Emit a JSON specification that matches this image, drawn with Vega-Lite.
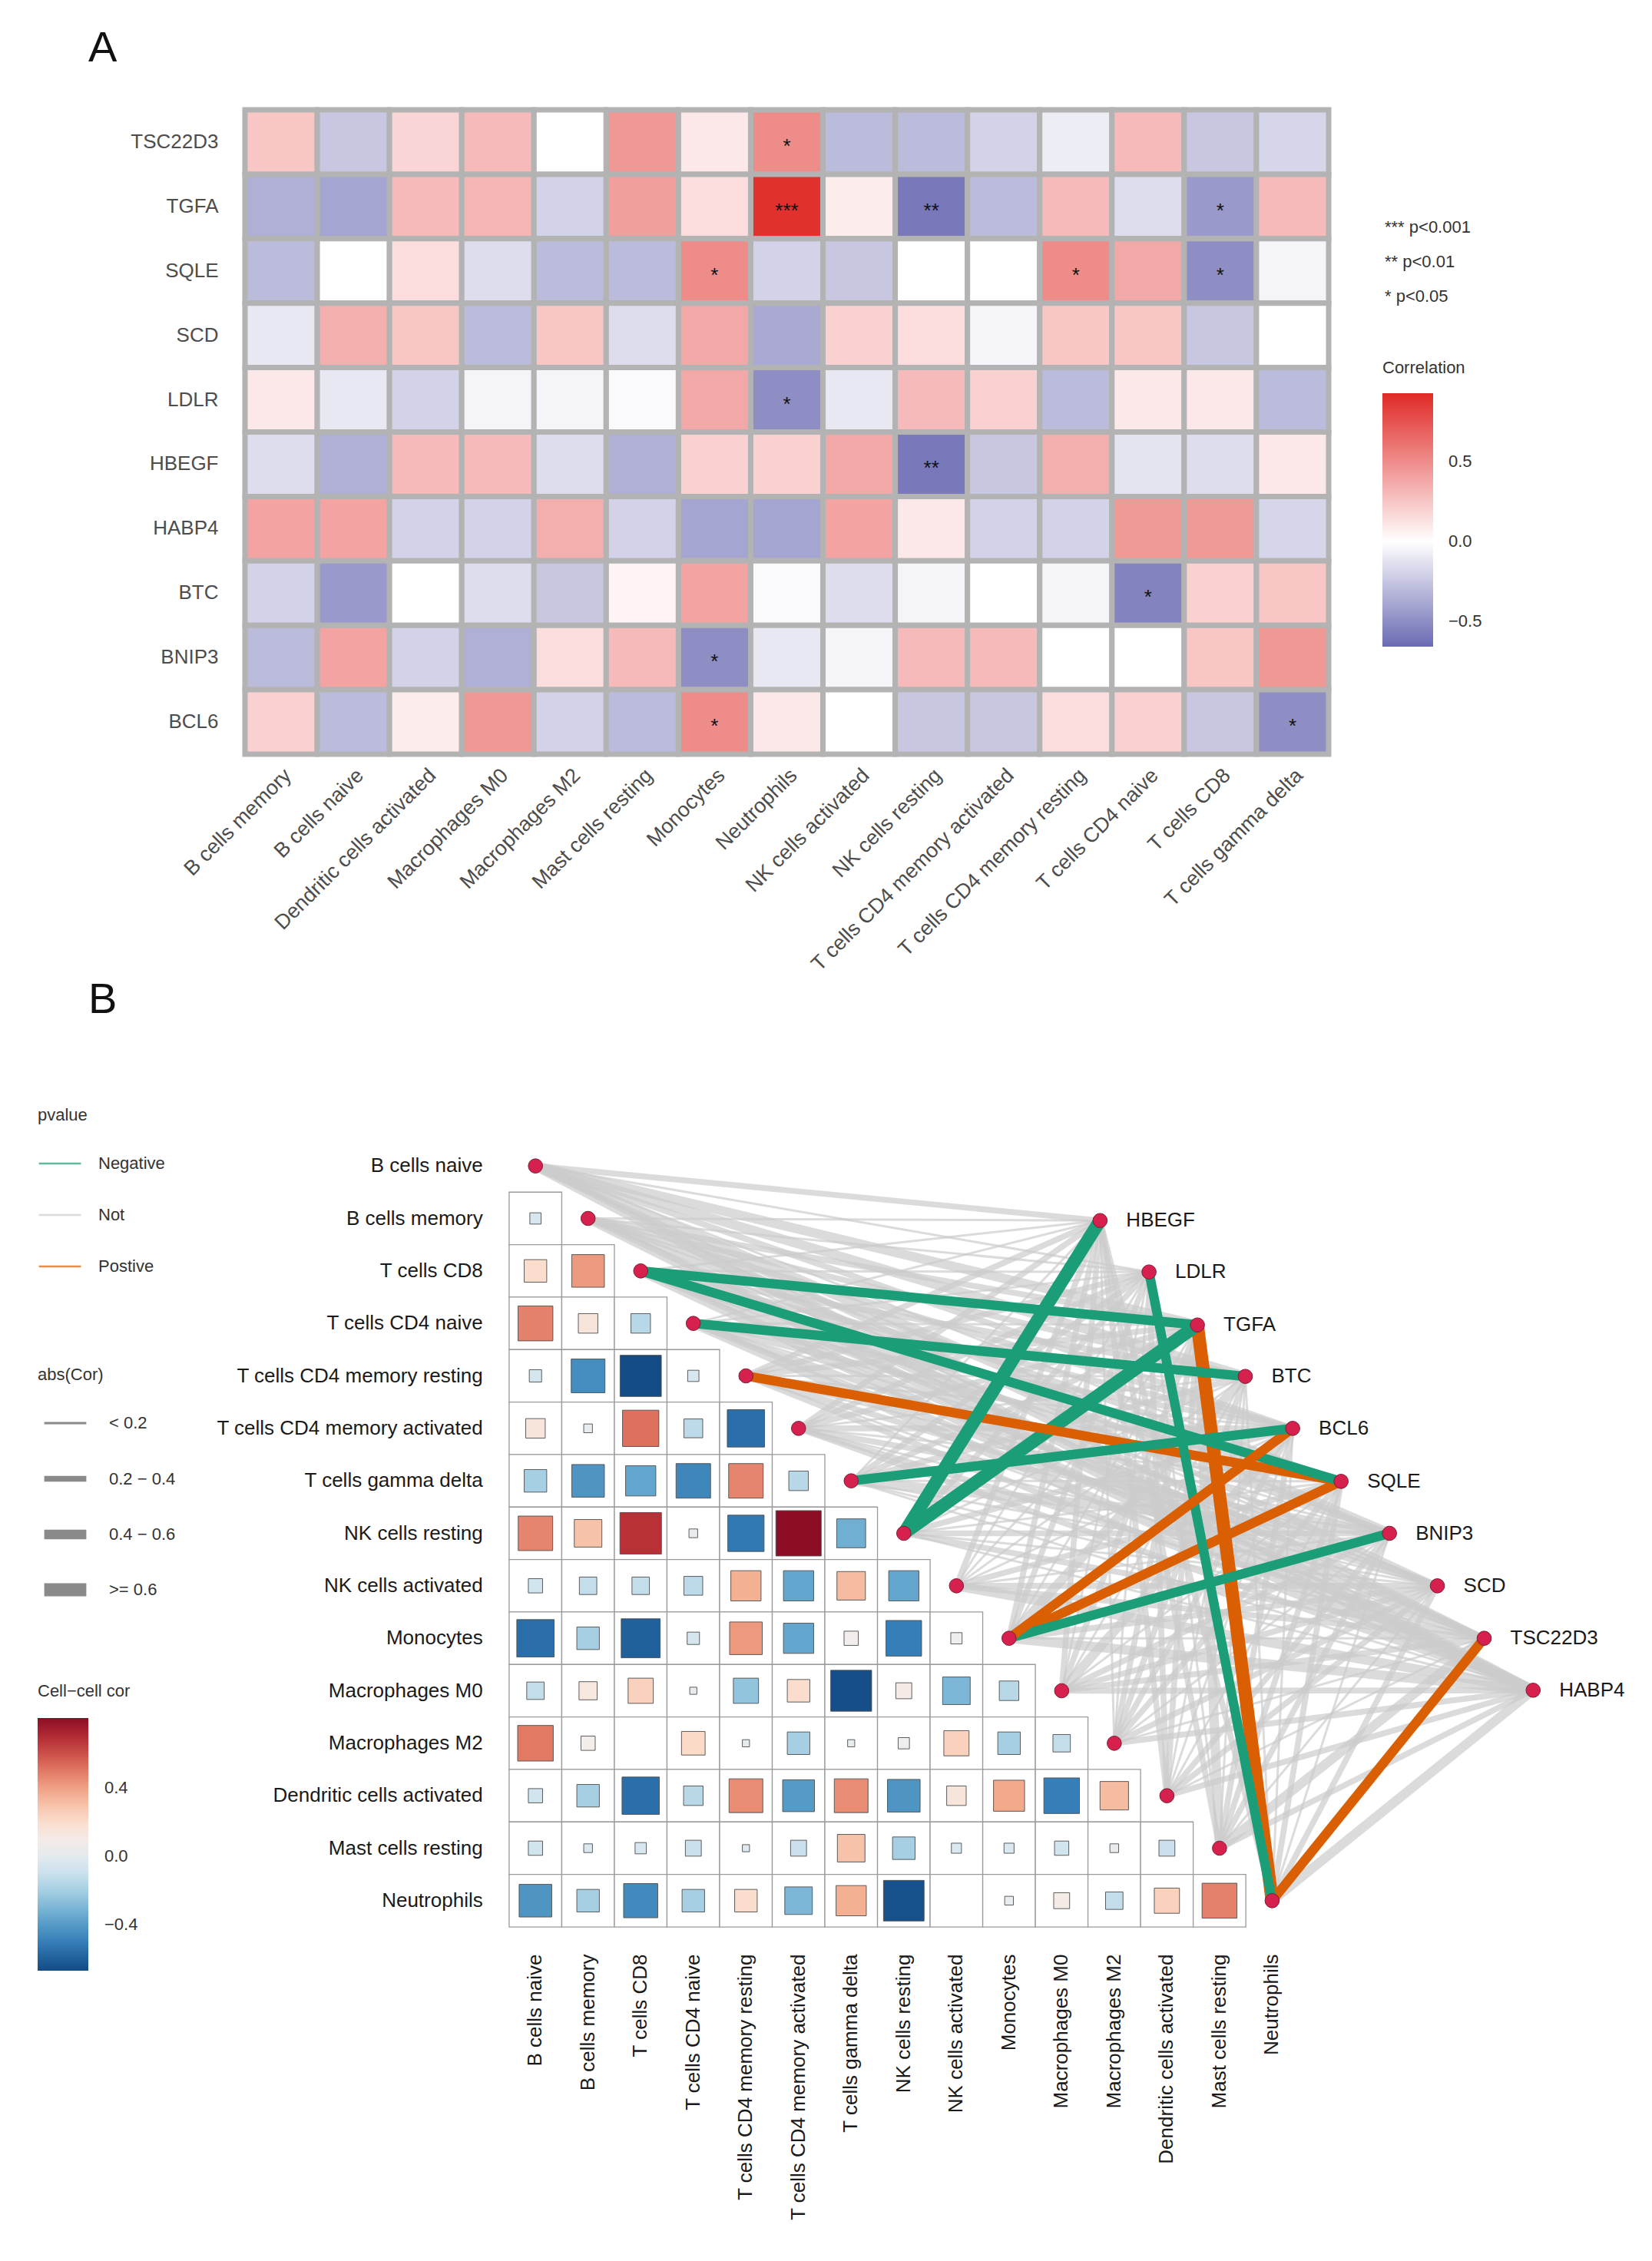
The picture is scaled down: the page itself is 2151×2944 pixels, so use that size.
{
"$schema": "https://vega.github.io/schema/vega-lite/v6.json",
"background": "white",
"padding": {"left": 49, "top": 34, "right": 10, "bottom": 10},
"bounds": "flush",
"spacing": 502,
"config": {
  "font": "Liberation Sans",
  "view": {"stroke": null},
  "legend": {"padding": 0, "titleFontWeight": "normal", "titleFontSize": 22, "labelFontSize": 22, "titleColor": "#333333", "labelColor": "#333333"},
  "title": {"fontWeight": "normal", "color": "#111111"}
},
"resolve": {"scale": {"color": "independent", "opacity": "independent", "fill": "independent", "size": "independent", "strokeWidth": "independent"}, "legend": {"color": "independent"}},
"datasets": {
"nodes": [
{"node":"B cells naive","px":0,"py":0,"kind":"cell"},
{"node":"B cells memory","px":1,"py":1,"kind":"cell"},
{"node":"T cells CD8","px":2,"py":2,"kind":"cell"},
{"node":"T cells CD4 naive","px":3,"py":3,"kind":"cell"},
{"node":"T cells CD4 memory resting","px":4,"py":4,"kind":"cell"},
{"node":"T cells CD4 memory activated","px":5,"py":5,"kind":"cell"},
{"node":"T cells gamma delta","px":6,"py":6,"kind":"cell"},
{"node":"NK cells resting","px":7,"py":7,"kind":"cell"},
{"node":"NK cells activated","px":8,"py":8,"kind":"cell"},
{"node":"Monocytes","px":9,"py":9,"kind":"cell"},
{"node":"Macrophages M0","px":10,"py":10,"kind":"cell"},
{"node":"Macrophages M2","px":11,"py":11,"kind":"cell"},
{"node":"Dendritic cells activated","px":12,"py":12,"kind":"cell"},
{"node":"Mast cells resting","px":13,"py":13,"kind":"cell"},
{"node":"Neutrophils","px":14,"py":14,"kind":"cell"},
{"node":"HBEGF","px":10.73,"py":1.04,"kind":"gene"},
{"node":"LDLR","px":11.66,"py":2.02,"kind":"gene"},
{"node":"TGFA","px":12.58,"py":3.03,"kind":"gene"},
{"node":"BTC","px":13.49,"py":4.01,"kind":"gene"},
{"node":"BCL6","px":14.39,"py":5.0,"kind":"gene"},
{"node":"SQLE","px":15.31,"py":6.01,"kind":"gene"},
{"node":"BNIP3","px":16.23,"py":7.0,"kind":"gene"},
{"node":"SCD","px":17.14,"py":8.0,"kind":"gene"},
{"node":"TSC22D3","px":18.03,"py":9.0,"kind":"gene"},
{"node":"HABP4","px":18.96,"py":9.99,"kind":"gene"}
],
"cc": [
{"a":"B cells memory","b":"B cells naive","r":-0.05},
{"a":"T cells CD8","b":"B cells naive","r":0.2},
{"a":"T cells CD8","b":"B cells memory","r":0.42},
{"a":"T cells CD4 naive","b":"B cells naive","r":0.48},
{"a":"T cells CD4 naive","b":"B cells memory","r":0.15},
{"a":"T cells CD4 naive","b":"T cells CD8","r":-0.15},
{"a":"T cells CD4 memory resting","b":"B cells naive","r":-0.06},
{"a":"T cells CD4 memory resting","b":"B cells memory","r":-0.45},
{"a":"T cells CD4 memory resting","b":"T cells CD8","r":-0.67},
{"a":"T cells CD4 memory resting","b":"T cells CD4 naive","r":-0.05},
{"a":"T cells CD4 memory activated","b":"B cells naive","r":0.15},
{"a":"T cells CD4 memory activated","b":"B cells memory","r":0.03},
{"a":"T cells CD4 memory activated","b":"T cells CD8","r":0.52},
{"a":"T cells CD4 memory activated","b":"T cells CD4 naive","r":-0.14},
{"a":"T cells CD4 memory activated","b":"T cells CD4 memory resting","r":-0.55},
{"a":"T cells gamma delta","b":"B cells naive","r":-0.2},
{"a":"T cells gamma delta","b":"B cells memory","r":-0.42},
{"a":"T cells gamma delta","b":"T cells CD8","r":-0.36},
{"a":"T cells gamma delta","b":"T cells CD4 naive","r":-0.47},
{"a":"T cells gamma delta","b":"T cells CD4 memory resting","r":0.47},
{"a":"T cells gamma delta","b":"T cells CD4 memory activated","r":-0.15},
{"a":"NK cells resting","b":"B cells naive","r":0.47},
{"a":"NK cells resting","b":"B cells memory","r":0.3},
{"a":"NK cells resting","b":"T cells CD8","r":0.68},
{"a":"NK cells resting","b":"T cells CD4 naive","r":0.03},
{"a":"NK cells resting","b":"T cells CD4 memory resting","r":-0.52},
{"a":"NK cells resting","b":"T cells CD4 memory activated","r":0.81},
{"a":"NK cells resting","b":"T cells gamma delta","r":-0.33},
{"a":"NK cells activated","b":"B cells naive","r":-0.08},
{"a":"NK cells activated","b":"B cells memory","r":-0.12},
{"a":"NK cells activated","b":"T cells CD8","r":-0.12},
{"a":"NK cells activated","b":"T cells CD4 naive","r":-0.14},
{"a":"NK cells activated","b":"T cells CD4 memory resting","r":0.36},
{"a":"NK cells activated","b":"T cells CD4 memory activated","r":-0.36},
{"a":"NK cells activated","b":"T cells gamma delta","r":0.32},
{"a":"NK cells activated","b":"NK cells resting","r":-0.36},
{"a":"Monocytes","b":"B cells naive","r":-0.55},
{"a":"Monocytes","b":"B cells memory","r":-0.2},
{"a":"Monocytes","b":"T cells CD8","r":-0.6},
{"a":"Monocytes","b":"T cells CD4 naive","r":-0.06},
{"a":"Monocytes","b":"T cells CD4 memory resting","r":0.42},
{"a":"Monocytes","b":"T cells CD4 memory activated","r":-0.36},
{"a":"Monocytes","b":"T cells gamma delta","r":0.08},
{"a":"Monocytes","b":"NK cells resting","r":-0.5},
{"a":"Monocytes","b":"NK cells activated","r":0.05},
{"a":"Macrophages M0","b":"B cells naive","r":-0.12},
{"a":"Macrophages M0","b":"B cells memory","r":0.13},
{"a":"Macrophages M0","b":"T cells CD8","r":0.25},
{"a":"Macrophages M0","b":"T cells CD4 naive","r":0.02},
{"a":"Macrophages M0","b":"T cells CD4 memory resting","r":-0.25},
{"a":"Macrophages M0","b":"T cells CD4 memory activated","r":0.2},
{"a":"Macrophages M0","b":"T cells gamma delta","r":-0.66},
{"a":"Macrophages M0","b":"NK cells resting","r":0.1},
{"a":"Macrophages M0","b":"NK cells activated","r":-0.3},
{"a":"Macrophages M0","b":"Monocytes","r":-0.15},
{"a":"Macrophages M2","b":"B cells naive","r":0.5},
{"a":"Macrophages M2","b":"B cells memory","r":0.08},
{"a":"Macrophages M2","b":"T cells CD8","r":0.0},
{"a":"Macrophages M2","b":"T cells CD4 naive","r":0.22},
{"a":"Macrophages M2","b":"T cells CD4 memory resting","r":0.02},
{"a":"Macrophages M2","b":"T cells CD4 memory activated","r":-0.2},
{"a":"Macrophages M2","b":"T cells gamma delta","r":0.02},
{"a":"Macrophages M2","b":"NK cells resting","r":0.05},
{"a":"Macrophages M2","b":"NK cells activated","r":0.25},
{"a":"Macrophages M2","b":"Monocytes","r":-0.2},
{"a":"Macrophages M2","b":"Macrophages M0","r":-0.12},
{"a":"Dendritic cells activated","b":"B cells naive","r":-0.08},
{"a":"Dendritic cells activated","b":"B cells memory","r":-0.2},
{"a":"Dendritic cells activated","b":"T cells CD8","r":-0.55},
{"a":"Dendritic cells activated","b":"T cells CD4 naive","r":-0.15},
{"a":"Dendritic cells activated","b":"T cells CD4 memory resting","r":0.45},
{"a":"Dendritic cells activated","b":"T cells CD4 memory activated","r":-0.4},
{"a":"Dendritic cells activated","b":"T cells gamma delta","r":0.45},
{"a":"Dendritic cells activated","b":"NK cells resting","r":-0.42},
{"a":"Dendritic cells activated","b":"NK cells activated","r":0.15},
{"a":"Dendritic cells activated","b":"Monocytes","r":0.38},
{"a":"Dendritic cells activated","b":"Macrophages M0","r":-0.5},
{"a":"Dendritic cells activated","b":"Macrophages M2","r":0.32},
{"a":"Mast cells resting","b":"B cells naive","r":-0.08},
{"a":"Mast cells resting","b":"B cells memory","r":-0.03},
{"a":"Mast cells resting","b":"T cells CD8","r":-0.05},
{"a":"Mast cells resting","b":"T cells CD4 naive","r":-0.1},
{"a":"Mast cells resting","b":"T cells CD4 memory resting","r":-0.02},
{"a":"Mast cells resting","b":"T cells CD4 memory activated","r":-0.1},
{"a":"Mast cells resting","b":"T cells gamma delta","r":0.3},
{"a":"Mast cells resting","b":"NK cells resting","r":-0.2},
{"a":"Mast cells resting","b":"NK cells activated","r":-0.04},
{"a":"Mast cells resting","b":"Monocytes","r":-0.04},
{"a":"Mast cells resting","b":"Macrophages M0","r":-0.08},
{"a":"Mast cells resting","b":"Macrophages M2","r":0.03},
{"a":"Mast cells resting","b":"Dendritic cells activated","r":-0.1},
{"a":"Neutrophils","b":"B cells naive","r":-0.42},
{"a":"Neutrophils","b":"B cells memory","r":-0.2},
{"a":"Neutrophils","b":"T cells CD8","r":-0.46},
{"a":"Neutrophils","b":"T cells CD4 naive","r":-0.2},
{"a":"Neutrophils","b":"T cells CD4 memory resting","r":0.2},
{"a":"Neutrophils","b":"T cells CD4 memory activated","r":-0.3},
{"a":"Neutrophils","b":"T cells gamma delta","r":0.36},
{"a":"Neutrophils","b":"NK cells resting","r":-0.65},
{"a":"Neutrophils","b":"NK cells activated","r":0.0},
{"a":"Neutrophils","b":"Monocytes","r":0.03},
{"a":"Neutrophils","b":"Macrophages M0","r":0.1},
{"a":"Neutrophils","b":"Macrophages M2","r":-0.12},
{"a":"Neutrophils","b":"Dendritic cells activated","r":0.25},
{"a":"Neutrophils","b":"Mast cells resting","r":0.48}
],
"gc": [
{"gene":"TSC22D3","cell":"B cells memory","r":0.25,"star":"","pv":"Not","w":"0.2 − 0.4"},
{"gene":"TSC22D3","cell":"B cells naive","r":-0.25,"star":"","pv":"Not","w":"0.2 − 0.4"},
{"gene":"TSC22D3","cell":"Dendritic cells activated","r":0.18,"star":"","pv":"Not","w":"< 0.2"},
{"gene":"TSC22D3","cell":"Macrophages M0","r":0.3,"star":"","pv":"Not","w":"0.2 − 0.4"},
{"gene":"TSC22D3","cell":"Macrophages M2","r":0.0,"star":"","pv":"Not","w":"< 0.2"},
{"gene":"TSC22D3","cell":"Mast cells resting","r":0.45,"star":"","pv":"Not","w":"0.4 − 0.6"},
{"gene":"TSC22D3","cell":"Monocytes","r":0.1,"star":"","pv":"Not","w":"< 0.2"},
{"gene":"TSC22D3","cell":"Neutrophils","r":0.5,"star":"*","pv":"Postive","w":"0.4 − 0.6"},
{"gene":"TSC22D3","cell":"NK cells activated","r":-0.3,"star":"","pv":"Not","w":"0.2 − 0.4"},
{"gene":"TSC22D3","cell":"NK cells resting","r":-0.3,"star":"","pv":"Not","w":"0.2 − 0.4"},
{"gene":"TSC22D3","cell":"T cells CD4 memory activated","r":-0.2,"star":"","pv":"Not","w":"0.2 − 0.4"},
{"gene":"TSC22D3","cell":"T cells CD4 memory resting","r":-0.08,"star":"","pv":"Not","w":"< 0.2"},
{"gene":"TSC22D3","cell":"T cells CD4 naive","r":0.3,"star":"","pv":"Not","w":"0.2 − 0.4"},
{"gene":"TSC22D3","cell":"T cells CD8","r":-0.25,"star":"","pv":"Not","w":"0.2 − 0.4"},
{"gene":"TSC22D3","cell":"T cells gamma delta","r":-0.18,"star":"","pv":"Not","w":"< 0.2"},
{"gene":"TGFA","cell":"B cells memory","r":-0.35,"star":"","pv":"Not","w":"0.2 − 0.4"},
{"gene":"TGFA","cell":"B cells naive","r":-0.4,"star":"","pv":"Not","w":"0.4 − 0.6"},
{"gene":"TGFA","cell":"Dendritic cells activated","r":0.3,"star":"","pv":"Not","w":"0.2 − 0.4"},
{"gene":"TGFA","cell":"Macrophages M0","r":0.32,"star":"","pv":"Not","w":"0.2 − 0.4"},
{"gene":"TGFA","cell":"Macrophages M2","r":-0.2,"star":"","pv":"Not","w":"0.2 − 0.4"},
{"gene":"TGFA","cell":"Mast cells resting","r":0.42,"star":"","pv":"Not","w":"0.4 − 0.6"},
{"gene":"TGFA","cell":"Monocytes","r":0.15,"star":"","pv":"Not","w":"< 0.2"},
{"gene":"TGFA","cell":"Neutrophils","r":0.9,"star":"***","pv":"Postive","w":">= 0.6"},
{"gene":"TGFA","cell":"NK cells activated","r":0.08,"star":"","pv":"Not","w":"< 0.2"},
{"gene":"TGFA","cell":"NK cells resting","r":-0.6,"star":"**","pv":"Negative","w":">= 0.6"},
{"gene":"TGFA","cell":"T cells CD4 memory activated","r":-0.3,"star":"","pv":"Not","w":"0.2 − 0.4"},
{"gene":"TGFA","cell":"T cells CD4 memory resting","r":0.3,"star":"","pv":"Not","w":"0.2 − 0.4"},
{"gene":"TGFA","cell":"T cells CD4 naive","r":-0.15,"star":"","pv":"Not","w":"< 0.2"},
{"gene":"TGFA","cell":"T cells CD8","r":-0.45,"star":"*","pv":"Negative","w":"0.4 − 0.6"},
{"gene":"TGFA","cell":"T cells gamma delta","r":0.3,"star":"","pv":"Not","w":"0.2 − 0.4"},
{"gene":"SQLE","cell":"B cells memory","r":-0.3,"star":"","pv":"Not","w":"0.2 − 0.4"},
{"gene":"SQLE","cell":"B cells naive","r":0.0,"star":"","pv":"Not","w":"< 0.2"},
{"gene":"SQLE","cell":"Dendritic cells activated","r":0.15,"star":"","pv":"Not","w":"< 0.2"},
{"gene":"SQLE","cell":"Macrophages M0","r":-0.15,"star":"","pv":"Not","w":"< 0.2"},
{"gene":"SQLE","cell":"Macrophages M2","r":-0.3,"star":"","pv":"Not","w":"0.2 − 0.4"},
{"gene":"SQLE","cell":"Mast cells resting","r":-0.3,"star":"","pv":"Not","w":"0.2 − 0.4"},
{"gene":"SQLE","cell":"Monocytes","r":0.5,"star":"*","pv":"Postive","w":"0.4 − 0.6"},
{"gene":"SQLE","cell":"Neutrophils","r":-0.2,"star":"","pv":"Not","w":"0.2 − 0.4"},
{"gene":"SQLE","cell":"NK cells activated","r":-0.25,"star":"","pv":"Not","w":"0.2 − 0.4"},
{"gene":"SQLE","cell":"NK cells resting","r":0.0,"star":"","pv":"Not","w":"< 0.2"},
{"gene":"SQLE","cell":"T cells CD4 memory activated","r":0.0,"star":"","pv":"Not","w":"< 0.2"},
{"gene":"SQLE","cell":"T cells CD4 memory resting","r":0.5,"star":"*","pv":"Postive","w":"0.4 − 0.6"},
{"gene":"SQLE","cell":"T cells CD4 naive","r":0.38,"star":"","pv":"Not","w":"0.2 − 0.4"},
{"gene":"SQLE","cell":"T cells CD8","r":-0.5,"star":"*","pv":"Negative","w":"0.4 − 0.6"},
{"gene":"SQLE","cell":"T cells gamma delta","r":-0.05,"star":"","pv":"Not","w":"< 0.2"},
{"gene":"SCD","cell":"B cells memory","r":-0.1,"star":"","pv":"Not","w":"< 0.2"},
{"gene":"SCD","cell":"B cells naive","r":0.35,"star":"","pv":"Not","w":"0.2 − 0.4"},
{"gene":"SCD","cell":"Dendritic cells activated","r":0.25,"star":"","pv":"Not","w":"0.2 − 0.4"},
{"gene":"SCD","cell":"Macrophages M0","r":-0.3,"star":"","pv":"Not","w":"0.2 − 0.4"},
{"gene":"SCD","cell":"Macrophages M2","r":0.25,"star":"","pv":"Not","w":"0.2 − 0.4"},
{"gene":"SCD","cell":"Mast cells resting","r":-0.15,"star":"","pv":"Not","w":"< 0.2"},
{"gene":"SCD","cell":"Monocytes","r":0.38,"star":"","pv":"Not","w":"0.2 − 0.4"},
{"gene":"SCD","cell":"Neutrophils","r":-0.38,"star":"","pv":"Not","w":"0.2 − 0.4"},
{"gene":"SCD","cell":"NK cells activated","r":0.2,"star":"","pv":"Not","w":"0.2 − 0.4"},
{"gene":"SCD","cell":"NK cells resting","r":0.15,"star":"","pv":"Not","w":"< 0.2"},
{"gene":"SCD","cell":"T cells CD4 memory activated","r":-0.05,"star":"","pv":"Not","w":"< 0.2"},
{"gene":"SCD","cell":"T cells CD4 memory resting","r":0.25,"star":"","pv":"Not","w":"0.2 − 0.4"},
{"gene":"SCD","cell":"T cells CD4 naive","r":0.25,"star":"","pv":"Not","w":"0.2 − 0.4"},
{"gene":"SCD","cell":"T cells CD8","r":-0.25,"star":"","pv":"Not","w":"0.2 − 0.4"},
{"gene":"SCD","cell":"T cells gamma delta","r":0.0,"star":"","pv":"Not","w":"< 0.2"},
{"gene":"LDLR","cell":"B cells memory","r":0.1,"star":"","pv":"Not","w":"< 0.2"},
{"gene":"LDLR","cell":"B cells naive","r":-0.1,"star":"","pv":"Not","w":"< 0.2"},
{"gene":"LDLR","cell":"Dendritic cells activated","r":-0.2,"star":"","pv":"Not","w":"0.2 − 0.4"},
{"gene":"LDLR","cell":"Macrophages M0","r":-0.05,"star":"","pv":"Not","w":"< 0.2"},
{"gene":"LDLR","cell":"Macrophages M2","r":-0.05,"star":"","pv":"Not","w":"< 0.2"},
{"gene":"LDLR","cell":"Mast cells resting","r":-0.02,"star":"","pv":"Not","w":"< 0.2"},
{"gene":"LDLR","cell":"Monocytes","r":0.38,"star":"","pv":"Not","w":"0.2 − 0.4"},
{"gene":"LDLR","cell":"Neutrophils","r":-0.5,"star":"*","pv":"Negative","w":"0.4 − 0.6"},
{"gene":"LDLR","cell":"NK cells activated","r":-0.1,"star":"","pv":"Not","w":"< 0.2"},
{"gene":"LDLR","cell":"NK cells resting","r":0.3,"star":"","pv":"Not","w":"0.2 − 0.4"},
{"gene":"LDLR","cell":"T cells CD4 memory activated","r":0.2,"star":"","pv":"Not","w":"0.2 − 0.4"},
{"gene":"LDLR","cell":"T cells CD4 memory resting","r":-0.3,"star":"","pv":"Not","w":"0.2 − 0.4"},
{"gene":"LDLR","cell":"T cells CD4 naive","r":0.1,"star":"","pv":"Not","w":"< 0.2"},
{"gene":"LDLR","cell":"T cells CD8","r":0.1,"star":"","pv":"Not","w":"< 0.2"},
{"gene":"LDLR","cell":"T cells gamma delta","r":-0.3,"star":"","pv":"Not","w":"0.2 − 0.4"},
{"gene":"HBEGF","cell":"B cells memory","r":-0.15,"star":"","pv":"Not","w":"< 0.2"},
{"gene":"HBEGF","cell":"B cells naive","r":-0.35,"star":"","pv":"Not","w":"0.2 − 0.4"},
{"gene":"HBEGF","cell":"Dendritic cells activated","r":0.3,"star":"","pv":"Not","w":"0.2 − 0.4"},
{"gene":"HBEGF","cell":"Macrophages M0","r":0.3,"star":"","pv":"Not","w":"0.2 − 0.4"},
{"gene":"HBEGF","cell":"Macrophages M2","r":-0.15,"star":"","pv":"Not","w":"< 0.2"},
{"gene":"HBEGF","cell":"Mast cells resting","r":-0.35,"star":"","pv":"Not","w":"0.2 − 0.4"},
{"gene":"HBEGF","cell":"Monocytes","r":0.2,"star":"","pv":"Not","w":"0.2 − 0.4"},
{"gene":"HBEGF","cell":"Neutrophils","r":0.2,"star":"","pv":"Not","w":"0.2 − 0.4"},
{"gene":"HBEGF","cell":"NK cells activated","r":0.38,"star":"","pv":"Not","w":"0.2 − 0.4"},
{"gene":"HBEGF","cell":"NK cells resting","r":-0.6,"star":"**","pv":"Negative","w":">= 0.6"},
{"gene":"HBEGF","cell":"T cells CD4 memory activated","r":-0.25,"star":"","pv":"Not","w":"0.2 − 0.4"},
{"gene":"HBEGF","cell":"T cells CD4 memory resting","r":0.35,"star":"","pv":"Not","w":"0.2 − 0.4"},
{"gene":"HBEGF","cell":"T cells CD4 naive","r":-0.12,"star":"","pv":"Not","w":"< 0.2"},
{"gene":"HBEGF","cell":"T cells CD8","r":-0.15,"star":"","pv":"Not","w":"< 0.2"},
{"gene":"HBEGF","cell":"T cells gamma delta","r":0.1,"star":"","pv":"Not","w":"< 0.2"},
{"gene":"HABP4","cell":"B cells memory","r":0.4,"star":"","pv":"Not","w":"0.4 − 0.6"},
{"gene":"HABP4","cell":"B cells naive","r":0.4,"star":"","pv":"Not","w":"0.4 − 0.6"},
{"gene":"HABP4","cell":"Dendritic cells activated","r":-0.2,"star":"","pv":"Not","w":"0.2 − 0.4"},
{"gene":"HABP4","cell":"Macrophages M0","r":-0.2,"star":"","pv":"Not","w":"0.2 − 0.4"},
{"gene":"HABP4","cell":"Macrophages M2","r":0.35,"star":"","pv":"Not","w":"0.2 − 0.4"},
{"gene":"HABP4","cell":"Mast cells resting","r":-0.2,"star":"","pv":"Not","w":"0.2 − 0.4"},
{"gene":"HABP4","cell":"Monocytes","r":-0.4,"star":"","pv":"Not","w":"0.4 − 0.6"},
{"gene":"HABP4","cell":"Neutrophils","r":-0.4,"star":"","pv":"Not","w":"0.4 − 0.6"},
{"gene":"HABP4","cell":"NK cells activated","r":0.4,"star":"","pv":"Not","w":"0.4 − 0.6"},
{"gene":"HABP4","cell":"NK cells resting","r":0.1,"star":"","pv":"Not","w":"< 0.2"},
{"gene":"HABP4","cell":"T cells CD4 memory activated","r":-0.2,"star":"","pv":"Not","w":"0.2 − 0.4"},
{"gene":"HABP4","cell":"T cells CD4 memory resting","r":-0.2,"star":"","pv":"Not","w":"0.2 − 0.4"},
{"gene":"HABP4","cell":"T cells CD4 naive","r":0.44,"star":"","pv":"Not","w":"0.4 − 0.6"},
{"gene":"HABP4","cell":"T cells CD8","r":0.44,"star":"","pv":"Not","w":"0.4 − 0.6"},
{"gene":"HABP4","cell":"T cells gamma delta","r":-0.18,"star":"","pv":"Not","w":"< 0.2"},
{"gene":"BTC","cell":"B cells memory","r":-0.2,"star":"","pv":"Not","w":"0.2 − 0.4"},
{"gene":"BTC","cell":"B cells naive","r":-0.45,"star":"","pv":"Not","w":"0.4 − 0.6"},
{"gene":"BTC","cell":"Dendritic cells activated","r":0.0,"star":"","pv":"Not","w":"< 0.2"},
{"gene":"BTC","cell":"Macrophages M0","r":-0.15,"star":"","pv":"Not","w":"< 0.2"},
{"gene":"BTC","cell":"Macrophages M2","r":-0.25,"star":"","pv":"Not","w":"0.2 − 0.4"},
{"gene":"BTC","cell":"Mast cells resting","r":0.05,"star":"","pv":"Not","w":"< 0.2"},
{"gene":"BTC","cell":"Monocytes","r":0.4,"star":"","pv":"Not","w":"0.4 − 0.6"},
{"gene":"BTC","cell":"Neutrophils","r":-0.02,"star":"","pv":"Not","w":"< 0.2"},
{"gene":"BTC","cell":"NK cells activated","r":-0.15,"star":"","pv":"Not","w":"< 0.2"},
{"gene":"BTC","cell":"NK cells resting","r":-0.05,"star":"","pv":"Not","w":"< 0.2"},
{"gene":"BTC","cell":"T cells CD4 memory activated","r":0.0,"star":"","pv":"Not","w":"< 0.2"},
{"gene":"BTC","cell":"T cells CD4 memory resting","r":-0.05,"star":"","pv":"Not","w":"< 0.2"},
{"gene":"BTC","cell":"T cells CD4 naive","r":-0.55,"star":"*","pv":"Negative","w":"0.4 − 0.6"},
{"gene":"BTC","cell":"T cells CD8","r":0.2,"star":"","pv":"Not","w":"0.2 − 0.4"},
{"gene":"BTC","cell":"T cells gamma delta","r":0.25,"star":"","pv":"Not","w":"0.2 − 0.4"},
{"gene":"BNIP3","cell":"B cells memory","r":-0.3,"star":"","pv":"Not","w":"0.2 − 0.4"},
{"gene":"BNIP3","cell":"B cells naive","r":0.4,"star":"","pv":"Not","w":"0.4 − 0.6"},
{"gene":"BNIP3","cell":"Dendritic cells activated","r":-0.2,"star":"","pv":"Not","w":"0.2 − 0.4"},
{"gene":"BNIP3","cell":"Macrophages M0","r":-0.35,"star":"","pv":"Not","w":"0.2 − 0.4"},
{"gene":"BNIP3","cell":"Macrophages M2","r":0.15,"star":"","pv":"Not","w":"< 0.2"},
{"gene":"BNIP3","cell":"Mast cells resting","r":0.3,"star":"","pv":"Not","w":"0.2 − 0.4"},
{"gene":"BNIP3","cell":"Monocytes","r":-0.5,"star":"*","pv":"Negative","w":"0.4 − 0.6"},
{"gene":"BNIP3","cell":"Neutrophils","r":-0.1,"star":"","pv":"Not","w":"< 0.2"},
{"gene":"BNIP3","cell":"NK cells activated","r":-0.05,"star":"","pv":"Not","w":"< 0.2"},
{"gene":"BNIP3","cell":"NK cells resting","r":0.3,"star":"","pv":"Not","w":"0.2 − 0.4"},
{"gene":"BNIP3","cell":"T cells CD4 memory activated","r":0.3,"star":"","pv":"Not","w":"0.2 − 0.4"},
{"gene":"BNIP3","cell":"T cells CD4 memory resting","r":0.0,"star":"","pv":"Not","w":"< 0.2"},
{"gene":"BNIP3","cell":"T cells CD4 naive","r":0.0,"star":"","pv":"Not","w":"< 0.2"},
{"gene":"BNIP3","cell":"T cells CD8","r":0.25,"star":"","pv":"Not","w":"0.2 − 0.4"},
{"gene":"BNIP3","cell":"T cells gamma delta","r":0.45,"star":"","pv":"Not","w":"0.4 − 0.6"},
{"gene":"BCL6","cell":"B cells memory","r":0.2,"star":"","pv":"Not","w":"0.2 − 0.4"},
{"gene":"BCL6","cell":"B cells naive","r":-0.3,"star":"","pv":"Not","w":"0.2 − 0.4"},
{"gene":"BCL6","cell":"Dendritic cells activated","r":0.08,"star":"","pv":"Not","w":"< 0.2"},
{"gene":"BCL6","cell":"Macrophages M0","r":0.45,"star":"","pv":"Not","w":"0.4 − 0.6"},
{"gene":"BCL6","cell":"Macrophages M2","r":-0.2,"star":"","pv":"Not","w":"0.2 − 0.4"},
{"gene":"BCL6","cell":"Mast cells resting","r":-0.3,"star":"","pv":"Not","w":"0.2 − 0.4"},
{"gene":"BCL6","cell":"Monocytes","r":0.5,"star":"*","pv":"Postive","w":"0.4 − 0.6"},
{"gene":"BCL6","cell":"Neutrophils","r":0.1,"star":"","pv":"Not","w":"< 0.2"},
{"gene":"BCL6","cell":"NK cells activated","r":0.0,"star":"","pv":"Not","w":"< 0.2"},
{"gene":"BCL6","cell":"NK cells resting","r":-0.25,"star":"","pv":"Not","w":"0.2 − 0.4"},
{"gene":"BCL6","cell":"T cells CD4 memory activated","r":-0.25,"star":"","pv":"Not","w":"0.2 − 0.4"},
{"gene":"BCL6","cell":"T cells CD4 memory resting","r":0.15,"star":"","pv":"Not","w":"< 0.2"},
{"gene":"BCL6","cell":"T cells CD4 naive","r":0.2,"star":"","pv":"Not","w":"0.2 − 0.4"},
{"gene":"BCL6","cell":"T cells CD8","r":-0.25,"star":"","pv":"Not","w":"0.2 − 0.4"},
{"gene":"BCL6","cell":"T cells gamma delta","r":-0.5,"star":"*","pv":"Negative","w":"0.4 − 0.6"}
]
},
"vconcat": [
{
  "width": 1411,
  "height": 839,
  "title": {"text": "A", "anchor": "start", "frame": "group", "dx": -204, "offset": 48, "fontSize": 56},
  "data": {"name": "gc"},
  "encoding": {
    "x": {"field": "cell", "type": "nominal",
      "sort": ["B cells memory","B cells naive","Dendritic cells activated","Macrophages M0","Macrophages M2","Mast cells resting","Monocytes","Neutrophils","NK cells activated","NK cells resting","T cells CD4 memory activated","T cells CD4 memory resting","T cells CD4 naive","T cells CD8","T cells gamma delta"],
      "scale": {"paddingInner": 0, "paddingOuter": 0},
      "axis": {"title": null, "labelAngle": -45, "labelFontSize": 27, "labelColor": "#4d4d4d", "domain": false, "ticks": false, "labelPadding": 14, "labelLimit": 0}},
    "y": {"field": "gene", "type": "nominal",
      "sort": ["TSC22D3","TGFA","SQLE","SCD","LDLR","HBEGF","HABP4","BTC","BNIP3","BCL6"],
      "scale": {"paddingInner": 0, "paddingOuter": 0},
      "axis": {"title": null, "labelFontSize": 26, "labelColor": "#4d4d4d", "domain": false, "ticks": false, "labelPadding": 35}}
  },
  "layer": [
    {
      "mark": {"type": "rect", "stroke": "#b3b3b3", "strokeWidth": 7},
      "encoding": {
        "color": {"field": "r", "type": "quantitative",
          "scale": {"domain": [-0.66, 0, 0.93], "range": ["#6a6ab3", "#ffffff", "#e02a26"], "interpolate": "rgb"},
          "legend": {"title": "Correlation", "orient": "none", "legendX": 1481, "legendY": 326, "direction": "vertical", "gradientLength": 330, "gradientThickness": 66, "values": [-0.5, 0, 0.5], "format": ".1f", "titlePadding": 21, "labelOffset": 20, "gradientStrokeWidth": 0}}
      }
    },
    {
      "transform": [{"filter": "datum.star != ''"}],
      "mark": {"type": "text", "fontSize": 26, "color": "#111111", "baseline": "middle", "dy": 6},
      "encoding": {
        "text": {"field": "star"},
        "opacity": {"field": "star", "type": "nominal",
          "scale": {"domain": ["***", "**", "*"], "range": [1, 1]},
          "legend": {"title": null, "orient": "none", "legendX": 1462, "legendY": 142, "symbolSize": 0, "symbolStrokeWidth": 0, "symbolOpacity": 0, "labelOffset": 0, "rowPadding": 23,
            "labelExpr": "datum.label == '***' ? '***  p<0.001' : datum.label == '**' ? '**  p<0.01' : '*  p<0.05'"}}
      }
    }
  ]
},
{
  "width": 1817,
  "height": 1025,
  "title": {"text": "B", "anchor": "start", "frame": "group", "dx": -204, "offset": 111, "fontSize": 56},
  "encoding": {
    "x": {"field": "px", "type": "quantitative", "scale": {"domain": [-5.52, 21.0], "nice": false, "zero": false}, "axis": null},
    "y": {"field": "py", "type": "quantitative", "scale": {"domain": [-0.5, 14.5], "nice": false, "zero": false, "reverse": true}, "axis": null}
  },
  "layer": [
    {
      "data": {"name": "gc"},
      "transform": [
        {"filter": "datum.pv == 'Not'"},
        {"fold": ["cell", "gene"]},
        {"lookup": "value", "from": {"data": {"name": "nodes"}, "key": "node", "fields": ["px", "py"]}}
      ],
      "mark": {"type": "line", "opacity": 0.7, "strokeCap": "butt"},
      "encoding": {
        "detail": [{"field": "cell"}, {"field": "gene"}],
        "order": {"field": "key", "type": "ordinal"},
        "color": {"field": "pv", "type": "nominal",
          "scale": {"domain": ["Negative", "Not", "Postive"], "range": ["#1b9e77", "#cccccc", "#d95f02"]},
          "legend": {"title": "pvalue", "orient": "none", "legendX": -270, "legendY": -42, "symbolType": "stroke", "symbolSize": 3000, "symbolStrokeWidth": 2.5, "labelOffset": 21, "titlePadding": 22, "rowPadding": 27}},
        "strokeWidth": {"field": "w", "type": "ordinal",
          "scale": {"domain": ["< 0.2", "0.2 − 0.4", "0.4 − 0.6", ">= 0.6"], "range": [3, 17]},
          "legend": {"title": "abs(Cor)", "orient": "none", "legendX": -270, "legendY": 296, "symbolType": "stroke", "symbolSize": 3000, "symbolStrokeColor": "#595959", "labelOffset": 21, "titlePadding": 22, "gridAlign": "all", "rowPadding": -9}}
      }
    },
    {
      "data": {"name": "gc"},
      "transform": [
        {"filter": "datum.pv != 'Not'"},
        {"fold": ["cell", "gene"]},
        {"lookup": "value", "from": {"data": {"name": "nodes"}, "key": "node", "fields": ["px", "py"]}}
      ],
      "mark": {"type": "line", "opacity": 1, "strokeCap": "butt"},
      "encoding": {
        "detail": [{"field": "cell"}, {"field": "gene"}],
        "order": {"field": "key", "type": "ordinal"},
        "color": {"field": "pv", "type": "nominal",
          "scale": {"domain": ["Negative", "Not", "Postive"], "range": ["#1b9e77", "#cccccc", "#d95f02"]}},
        "strokeWidth": {"field": "w", "type": "ordinal",
          "scale": {"domain": ["< 0.2", "0.2 − 0.4", "0.4 − 0.6", ">= 0.6"], "range": [3, 17]}}
      }
    },
    {
      "data": {"name": "cc"},
      "transform": [
        {"lookup": "b", "from": {"data": {"name": "nodes"}, "key": "node", "fields": ["px"]}},
        {"lookup": "a", "from": {"data": {"name": "nodes"}, "key": "node", "fields": ["py"]}}
      ],
      "mark": {"type": "square", "size": 4692, "fill": "#ffffff", "stroke": "#9a9a9a", "strokeWidth": 1.3, "opacity": 1, "filled": true}
    },
    {
      "data": {"name": "cc"},
      "transform": [
        {"lookup": "b", "from": {"data": {"name": "nodes"}, "key": "node", "fields": ["px"]}},
        {"lookup": "a", "from": {"data": {"name": "nodes"}, "key": "node", "fields": ["py"]}}
      ],
      "mark": {"type": "square", "stroke": "#4d4d4d", "strokeWidth": 0.9, "opacity": 1, "filled": true},
      "encoding": {
        "fill": {"field": "r", "type": "quantitative",
          "scale": {"scheme": "redblue", "reverse": true, "domain": [-0.67, 0.81]},
          "legend": {"title": "Cell−cell cor", "orient": "none", "legendX": -270, "legendY": 708, "direction": "vertical", "gradientLength": 329, "gradientThickness": 66, "values": [-0.4, 0, 0.4], "format": ".1f", "titlePadding": 23, "labelOffset": 21, "gradientStrokeWidth": 0}},
        "size": {"field": "r", "type": "quantitative", "scale": {"domain": [-1, 0, 1], "range": [4300, 0, 4300]}, "legend": null}
      }
    },
    {
      "data": {"name": "nodes"},
      "mark": {"type": "circle", "size": 346, "fill": "#d6204e", "stroke": "#7a1f33", "strokeWidth": 1, "opacity": 1}
    },
    {
      "data": {"name": "nodes"},
      "transform": [{"filter": "datum.kind == 'gene'"}],
      "mark": {"type": "text", "align": "left", "baseline": "middle", "dx": 34, "fontSize": 26, "color": "#1a1a1a"},
      "encoding": {"text": {"field": "node"}}
    },
    {
      "data": {"name": "nodes"},
      "transform": [{"filter": "datum.kind == 'cell'"}],
      "mark": {"type": "text", "align": "right", "baseline": "middle", "fontSize": 26, "color": "#1a1a1a"},
      "encoding": {"x": {"datum": -1}, "text": {"field": "node"}}
    },
    {
      "data": {"name": "nodes"},
      "transform": [{"filter": "datum.kind == 'cell'"}],
      "mark": {"type": "text", "align": "right", "baseline": "middle", "angle": 270, "fontSize": 26, "color": "#1a1a1a"},
      "encoding": {"y": {"datum": 15.02}, "text": {"field": "node"}}
    }
  ]
}
]
}
